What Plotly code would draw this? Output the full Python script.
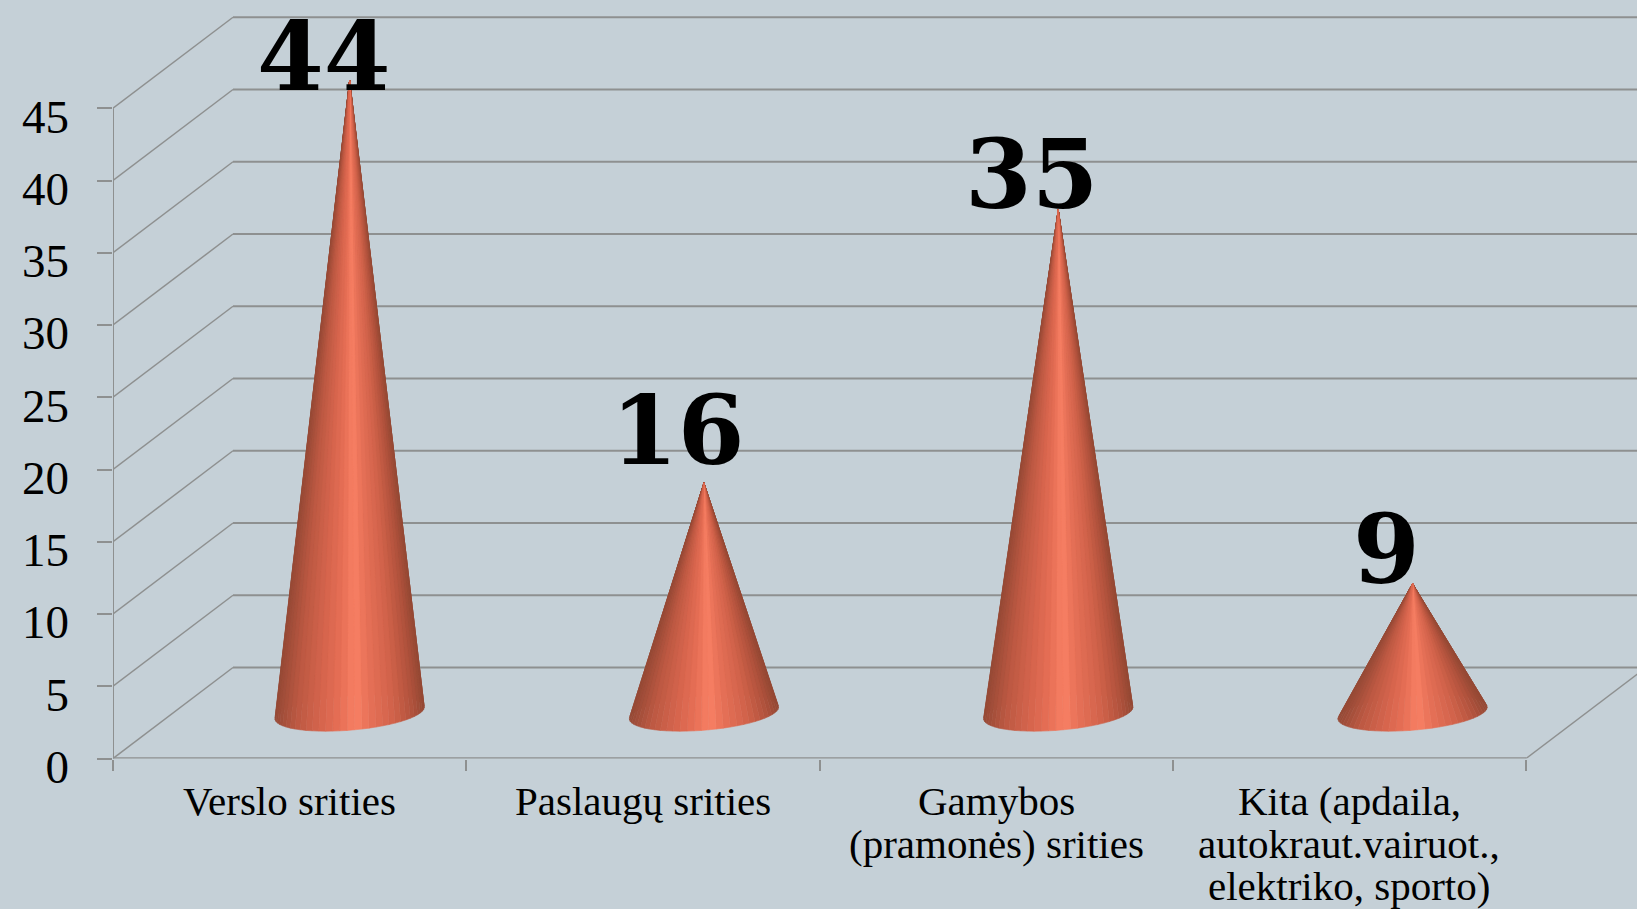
import math
import plotly.graph_objects as go

# ---- data ----
CATEGORY_LINES = [
    ["Verslo srities"],
    ["Paslaugų srities"],
    ["Gamybos", "(pramonės) srities"],
    ["Kita (apdaila,", "autokraut.vairuot.,", "elektriko, sporto)"],
]
VALUES = [44, 16, 35, 9]
Y_TICKS = [0, 5, 10, 15, 20, 25, 30, 35, 40, 45]

# ---- style / projection ----
W, H = 1637, 909
AX_L, AX_B = 113, 758.5           # pixel position of the axes origin
CAT_PX, UNIT_PX = 353.25, 14.45   # pixels per category, per value unit
DEPTH_X, DEPTH_Y = 120 / CAT_PX, 91 / UNIT_PX  # wall depth offset in data units
X_MAX = (W - AX_L) / CAT_PX
Y_MAX = AX_B / UNIT_PX
BG = "#c5d0d7"
GRID = "#8e9090"
LABEL_SHIFT_PX = 8
RADIUS = 0.2
SECTORS = 64
CONE_PITCH = 1.003     # cones drift slightly in the 3D projection
CONE_HEIGHT = 0.995
SHADE = [(-1.0, (150, 74, 54)), (-0.72, (188, 88, 66)), (-0.35, (216, 102, 78)),
         (-0.12, (232, 112, 86)), (0.08, (248, 128, 100)), (0.25, (232, 114, 88)),
         (0.6, (208, 98, 74)), (0.85, (176, 82, 60)), (1.0, (148, 72, 52))]
VALUE_LABEL_DX = -26
VALUE_LABEL_DY = [24, 52, 35.5, 34]


def shade(u):
    u = max(-1.0, min(1.0, u))
    for (a, ca), (b, cb) in zip(SHADE, SHADE[1:]):
        if u <= b:
            f = (u - a) / (b - a)
            return "rgb(%d,%d,%d)" % tuple(round(p + (q - p) * f) for p, q in zip(ca, cb))
    return "rgb(%d,%d,%d)" % SHADE[-1][1]


fig = go.Figure()


def line(xs, ys, width=1.6):
    fig.add_trace(go.Scatter(x=xs, y=ys, mode="lines", hoverinfo="skip", showlegend=False,
                             line=dict(color=GRID, width=width)))


# walls and floor
for v in Y_TICKS:
    line([0, DEPTH_X], [v, v + DEPTH_Y], 1.5)
    line([DEPTH_X, X_MAX], [v + DEPTH_Y, v + DEPTH_Y], 2)
line([0, 0], [0, Y_TICKS[-1]], 2)
line([0, len(VALUES)], [0, 0], 2.4)
line([len(VALUES), len(VALUES) + DEPTH_X], [0, DEPTH_Y], 1.5)


def cone_centre(i):
    return (i + 0.5) * CONE_PITCH + 0.5 * DEPTH_X - 0.0015, 0.5 * DEPTH_Y


# cones, one filled sector at a time (back sectors first)
for i, v in enumerate(VALUES):
    cx, cy = cone_centre(i)
    ex = RADIUS * DEPTH_X
    ey = RADIUS * DEPTH_Y
    span = math.hypot(RADIUS, ex)
    top = cy + v * CONE_HEIGHT

    def rim(t):
        return cx + RADIUS * math.cos(t) + ex * math.sin(t), cy + ey * math.sin(t)

    ts = [2 * math.pi * k / SECTORS for k in range(SECTORS)]
    for t in sorted(ts, key=lambda a: -math.sin(a + math.pi / SECTORS)):
        t1 = t + 2 * math.pi / SECTORS
        a, b = rim(t), rim(t1)
        col = shade(((a[0] + b[0]) / 2 - cx) / span)
        fig.add_trace(go.Scatter(
            x=[cx, a[0], b[0], cx], y=[top, a[1], b[1], top],
            mode="lines", fill="toself", fillcolor=col, hoverinfo="skip", showlegend=False,
            line=dict(color=col, width=0.6)))

# invisible trace that brings in the axis carrying the y tick labels
fig.add_trace(go.Scatter(x=[0] * len(Y_TICKS), y=Y_TICKS, yaxis="y2", mode="markers", opacity=0,
                         hoverinfo="skip", showlegend=False))

for i, v in enumerate(VALUES):
    cx, cy = cone_centre(i)
    fig.add_annotation(x=cx, y=cy + v * CONE_HEIGHT, text=str(v), showarrow=False,
                       xanchor="center", yanchor="middle",
                       xshift=VALUE_LABEL_DX, yshift=VALUE_LABEL_DY[i],
                       font=dict(family="DejaVu Serif", size=96, color="#000000", weight="bold"))

for i, rows in enumerate(CATEGORY_LINES):
    for k, row in enumerate(rows):
        fig.add_annotation(x=i + 0.5, y=0, text=row, showarrow=False, xanchor="center", yanchor="middle",
                           yshift=-(42.5 + 42.5 * k),
                           font=dict(family="Liberation Serif", size=41, color="#000000"))

fig.update_layout(
    width=W, height=H, margin=dict(l=0, r=0, t=0, b=0), autosize=False,
    paper_bgcolor=BG, plot_bgcolor="rgba(0,0,0,0)", showlegend=False, hovermode=False,
    xaxis=dict(domain=[AX_L / W, 1], range=[0, X_MAX], showgrid=False, zeroline=False, showline=False,
               automargin=False, tickmode="array", tickvals=list(range(len(VALUES) + 1)), showticklabels=False,
               ticks="outside", ticklen=11, tickwidth=1.6, tickcolor=GRID),
    yaxis=dict(domain=[(H - AX_B) / H, 1], range=[0, Y_MAX], showgrid=False, zeroline=False, showline=False,
               automargin=False, tickmode="array", tickvals=Y_TICKS, showticklabels=False,
               ticks="outside", ticklen=15, tickwidth=1.6, tickcolor=GRID),
    yaxis2=dict(domain=[0, 1],
                range=[(AX_B + LABEL_SHIFT_PX - H) / UNIT_PX, (AX_B + LABEL_SHIFT_PX) / UNIT_PX],
                side="left", anchor="x",
                automargin=False, showgrid=False, zeroline=False, showline=False,
                tickmode="array", tickvals=Y_TICKS, ticks="", ticklabelstandoff=43,
                tickfont=dict(family="Liberation Serif", size=47, color="#000000")),
)

fig.write_html("out.html", config={"displayModeBar": False},
               post_script="document.documentElement.style.overflow='hidden';document.body.style.margin='0';")
